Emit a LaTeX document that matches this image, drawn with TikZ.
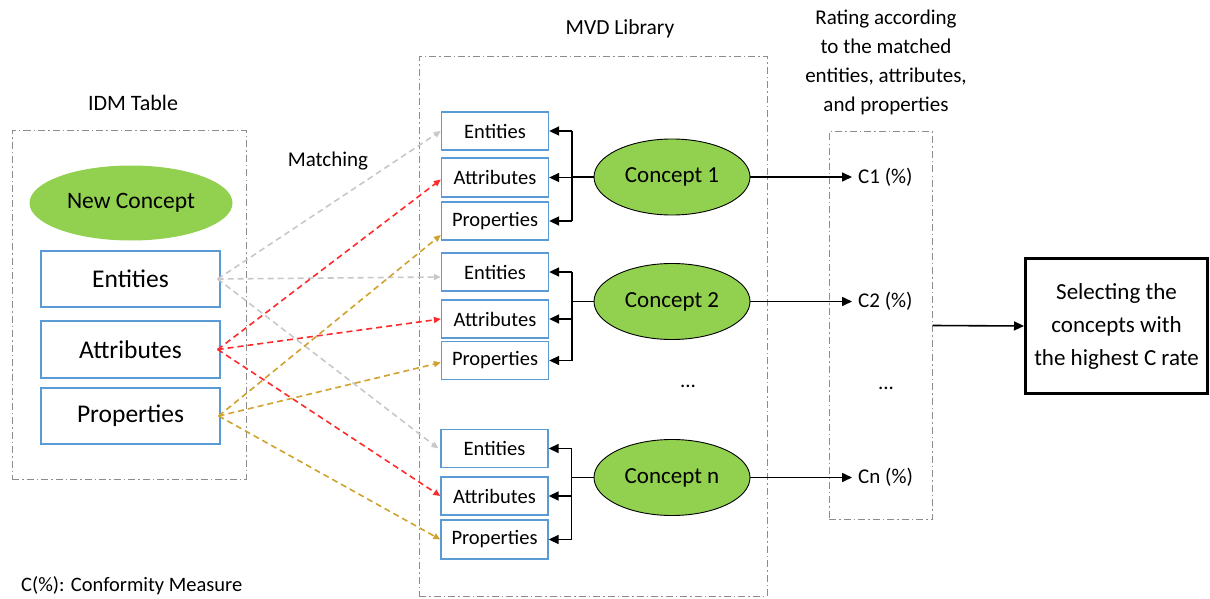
\documentclass[tikz,border=0pt]{standalone}
\usepackage{fontspec}
\setmainfont{Carlito}
\usetikzlibrary{arrows.meta,shapes.geometric,calc}
\definecolor{boxblue}{HTML}{5B9BD5}
\definecolor{conceptgreen}{HTML}{92D050}
\definecolor{framegray}{HTML}{8C8C8C}
\definecolor{mgray}{HTML}{C8C8C8}
\definecolor{mred}{HTML}{FF2A2A}
\definecolor{mgold}{HTML}{D0A22E}
\tikzset{
 frame/.style={draw=framegray, line width=1pt, dash pattern=on 7pt off 3pt on 1.5pt off 3pt, inner sep=0pt},
 bigbox/.style={draw=boxblue, line width=1.3pt, minimum width=179pt, minimum height=56pt, font=\fontsize{25.5}{28}\selectfont, inner sep=0pt},
 smallbox/.style={draw=boxblue, line width=1.3pt, minimum width=107pt, minimum height=38pt, font=\fontsize{20.5}{22}\selectfont, inner sep=0pt},
 concept/.style={ellipse, draw=black, line width=0.9pt, fill=conceptgreen, minimum width=156pt, minimum height=76pt, inner sep=0pt, font=\fontsize{23}{26}\selectfont},
 lbl/.style={font=\fontsize{21}{24}\selectfont, inner sep=0pt},
 rlbl/.style={font=\fontsize{21}{24}\selectfont, inner sep=0pt, anchor=west, inner xsep=6pt},
 conn/.style={line width=1.6pt, draw=black},
 arr/.style={conn, -{Triangle[length=10pt,width=9pt]}},
 match/.style={line width=1.6pt, dash pattern=on 6pt off 4pt, -{Triangle[length=7pt,width=6pt]}},
}
\begin{document}
\begin{tikzpicture}[x=1pt,y=-1pt]
\useasboundingbox (0,0) rectangle (1210,599);
% frames
\node[frame, minimum width=234pt, minimum height=348pt] (idm) at (129,305) {};
\node[frame, minimum width=348pt, minimum height=539pt] (mvd) at (593,326.5) {};
\node[frame, minimum width=103pt, minimum height=387pt] (rbox) at (880.5,325.5) {};
% titles
\node[lbl, font=\fontsize{22}{24}\selectfont] (idmt) at (133,103) {IDM Table};
\node[lbl] (mt) at (328,161) {Matching};
\node[lbl, font=\fontsize{21.5}{24}\selectfont] (mvdt) at (620,29) {MVD Library};
\node[font=\fontsize{21}{29}\selectfont, align=center, inner sep=0pt] (rt) at (886,62) {Rating according\\to the matched\\entities, attributes,\\and properties};
\node[lbl, font=\fontsize{20.5}{24}\selectfont, anchor=west] (note) at (21,586) {C(\%): Conformity Measure};
% IDM
\node[ellipse, fill=conceptgreen, minimum width=203pt, minimum height=75pt, inner sep=0pt, font=\fontsize{23.5}{26}\selectfont] (nc) at (131,203) {New Concept};
\node[bigbox] (le) at (130.5,279) {Entities};
\node[bigbox, minimum height=57pt] (la) at (130.5,349.5) {Attributes};
\node[bigbox] (lp) at (130.5,416) {Properties};
% MVD boxes
\node[smallbox] (e1) at (495,131) {Entities};
\node[smallbox, minimum height=39pt] (a1) at (495,177.5) {Attributes};
\node[smallbox] (p1) at (495,221) {Properties};
\node[smallbox] (e2) at (495,272) {Entities};
\node[smallbox] (a2) at (495,319) {Attributes};
\node[smallbox] (p2) at (495,360.5) {Properties};
\node[smallbox] (en) at (494.5,448.5) {Entities};
\node[smallbox] (an) at (494.5,496) {Attributes};
\node[smallbox, minimum height=39pt] (pn) at (494.5,539.5) {Properties};
% concepts
\node[concept] (c1) at (672,177) {Concept 1};
\node[concept] (c2) at (672,301.5) {Concept 2};
\node[concept] (cn) at (672,477.5) {Concept n};
\node[lbl] (dots1) at (688,386) {...};
% brackets
\foreach \g in {1,2,n}{
  \coordinate (ve\g) at ([xshift=23]e\g.east);
  \coordinate (va\g) at ([xshift=23]a\g.east);
  \coordinate (vp\g) at ([xshift=23]p\g.east);
  \draw[conn] (ve\g) -- (vp\g);
  \draw[conn] (c\g.west) -- (ve\g |- c\g.west);
  \draw[arr] (ve\g) -- (e\g.east);
  \draw[arr] (va\g) -- (a\g.east);
  \draw[arr] (vp\g) -- (p\g.east);
}
% ratings
\node[rlbl] (r1) at (852,177) {C1 (\%)};
\node[rlbl] (r2) at (852,301.5) {C2 (\%)};
\node[rlbl] (rn) at (852,477.5) {Cn (\%)};
\node[lbl] (dots2) at (886,388) {...};
\draw[arr] (c1.east) -- (r1.west);
\draw[arr] (c2.east) -- (r2.west);
\draw[arr] (cn.east) -- (rn.west);
% selection
\node[draw=black, line width=3pt, minimum width=182pt, minimum height=135pt, align=center, font=\fontsize{23}{33}\selectfont, inner sep=0pt] (sel) at (1116.5,326) {Selecting the\\concepts with\\the highest C rate};
\draw[arr] (rbox.east) -- (sel.west);
% matching arrows
\draw[match, draw=mgray] ([xshift=-3]le.east) -- (e1.west);
\draw[match, draw=mgray] ([xshift=-3]le.east) -- ([yshift=-5]e2.west);
\draw[match, draw=mgray] ([xshift=-3]le.east) -- ([xshift=-2]en.west);
\draw[match, draw=mred] ([xshift=-3]la.east) -- ([yshift=-2]a1.west);
\draw[match, draw=mred] ([xshift=-3]la.east) -- (a2.west);
\draw[match, draw=mred] ([xshift=-3]la.east) -- (an.west);
\draw[match, draw=mgold] ([xshift=-2]lp.east) -- ([yshift=-14]p1.west);
\draw[match, draw=mgold] ([xshift=-2]lp.east) -- ([yshift=-2]p2.west);
\draw[match, draw=mgold] ([xshift=-2]lp.east) -- (pn.west);
\end{tikzpicture}
\end{document}
